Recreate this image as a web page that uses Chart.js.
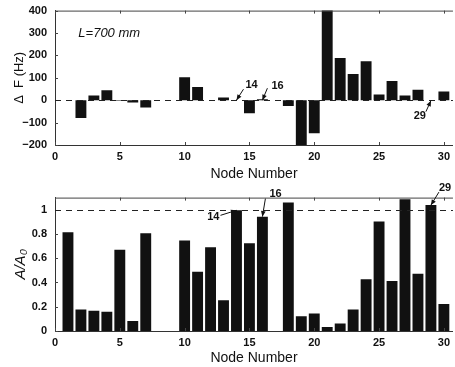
<!DOCTYPE html>
<html>
<head>
<meta charset="utf-8">
<script src="https://cdn.jsdelivr.net/npm/chart.js@4.4.0/dist/chart.umd.min.js"></script>
<style>
  body { margin: 0; background: #fff; }
  #wrap { position: relative; width: 455px; height: 367px; overflow: hidden; }
  #top_box { position: absolute; left: 0; top: -4px; width: 455px; height: 187px; }
  #bottom_box { position: absolute; left: 0; top: 183px; width: 455px; height: 184px; }
</style>
</head>
<body>
<div id="wrap">
  <div id="top_box"><canvas id="freq_canvas" width="455" height="187"></canvas></div>
  <div id="bottom_box"><canvas id="amp_canvas" width="455" height="184"></canvas></div>
</div>
<script>
// node numbers 1..30
let nodes = [1, 2, 3, 4, 5, 6, 7, 8, 9, 10, 11, 12, 13, 14, 15, 16, 17, 18, 19, 20, 21, 22, 23, 24, 25, 26, 27, 28, 29, 30];
// frequency shift, Hz
let delta_f = [0, -80, 21, 44, -3, -10, -33, 0, 0, 102, 59, 0, 12, 0, -58, 4, 0, -26, -210, -147, 410, 188, 117, 174, 26, 86, 21, 47, 0, 39];
// amplitude ratio A/A0
let amp_ratio = [0.815, 0.177, 0.168, 0.158, 0.671, 0.082, 0.807, 0, 0, 0.747, 0.489, 0.69, 0.253, 0.995, 0.723, 0.943, 0, 1.06, 0.122, 0.144, 0.033, 0.062, 0.177, 0.427, 0.902, 0.413, 1.087, 0.473, 1.038, 0.223];
let x_ticks = [0, 5, 10, 15, 20, 25, 30];
let freq_ticks = [-200, -100, 0, 100, 200, 300, 400];
let amp_ticks = [0, 0.2, 0.4, 0.6, 0.8, 1];

let tick_font = { family: 'Liberation Sans, Arial, sans-serif', size: 11, weight: 'bold' };
let title_font = { family: 'Liberation Sans, Arial, sans-serif', size: 14 };
let ink = '#111';

// dashed reference line + top frame + inward ticks + arrows/labels
let marks_plugin = {
    id: 'marks',
    afterDatasetsDraw(chart, args, opts) {
        let ctx = chart.ctx;
        let area = chart.chartArea;
        let xs = chart.scales.x;
        let ys = chart.scales.y;
        ctx.save();
        ctx.strokeStyle = '#444';
        ctx.lineWidth = 1;
        ctx.beginPath();
        ctx.moveTo(area.left, area.top + 0.5);
        ctx.lineTo(area.right, area.top + 0.5);
        ctx.stroke();
        x_ticks.forEach(t => {
            let px = Math.round(xs.getPixelForValue(t)) + 0.5;
            ctx.beginPath();
            ctx.moveTo(px, area.bottom); ctx.lineTo(px, area.bottom - 3);
            ctx.moveTo(px, area.top); ctx.lineTo(px, area.top + 3);
            ctx.stroke();
        });
        ys.ticks.forEach(t => {
            let py = Math.round(ys.getPixelForValue(t.value)) + 0.5;
            ctx.beginPath();
            ctx.moveTo(area.left, py); ctx.lineTo(area.left + 3, py);
            ctx.stroke();
        });
        // dashed reference line
        let ry = Math.round(ys.getPixelForValue(opts.refLine)) + 0.5;
        ctx.setLineDash([6, 5]);
        ctx.strokeStyle = '#222';
        ctx.beginPath();
        ctx.moveTo(area.left, ry);
        ctx.lineTo(area.right, ry);
        ctx.stroke();
        ctx.setLineDash([]);
        // arrows
        ctx.fillStyle = ink;
        ctx.strokeStyle = ink;
        ctx.font = 'bold 11px Liberation Sans, Arial, sans-serif';
        ctx.textBaseline = 'middle';
        (opts.arrows || []).forEach(a => {
            let tx = xs.getPixelForValue(a.node);
            let ty = ys.getPixelForValue(a.value);
            let sx = tx + a.dx, sy = ty + a.dy;
            ctx.beginPath();
            ctx.moveTo(sx, sy);
            ctx.lineTo(tx, ty);
            ctx.stroke();
            let ang = Math.atan2(ty - sy, tx - sx);
            ctx.beginPath();
            ctx.moveTo(tx, ty);
            ctx.lineTo(tx - 6 * Math.cos(ang - 0.4), ty - 6 * Math.sin(ang - 0.4));
            ctx.lineTo(tx - 6 * Math.cos(ang + 0.4), ty - 6 * Math.sin(ang + 0.4));
            ctx.closePath();
            ctx.fill();
            ctx.textAlign = a.align;
            ctx.fillText(a.text, tx + a.lx, ty + a.ly);
        });
        (opts.notes || []).forEach(n => {
            ctx.font = n.font;
            ctx.textAlign = 'left';
            ctx.fillText(n.text, xs.getPixelForValue(n.x), ys.getPixelForValue(n.y));
        });
        ctx.restore();
    }
};

function make_x(height) {
    return {
        type: 'linear',
        min: 0,
        max: 30.7,
        offset: false,
        afterFit: s => { s.height = height; },
        ticks: { font: tick_font, color: ink, padding: 5, stepSize: 5, includeBounds: false, autoSkip: false, maxRotation: 0 },
        grid: { display: false, drawTicks: false, offset: false },
        border: { display: true, color: '#333' },
        title: { display: true, text: 'Node Number', font: title_font, color: ink, padding: { top: 2, bottom: 0 } }
    };
}

let freq_chart = new Chart(document.getElementById('freq_canvas'), {
    type: 'bar',
    data: {
        datasets: [{
            data: nodes.map((n, i) => ({ x: n, y: delta_f[i] })),
            backgroundColor: ink,
            barPercentage: 0.84,
            categoryPercentage: 1
        }]
    },
    options: {
        responsive: false,
        animation: false,
        layout: { padding: { top: 7, right: 0, left: 0, bottom: 0 } },
        plugins: {
            legend: { display: false },
            tooltip: { enabled: false },
            marks: {
                refLine: 0,
                arrows: [
                    { node: 14, value: 0, dx: 7, dy: -11, text: '14', align: 'left', lx: 9, ly: -15 },
                    { node: 16, value: 0, dx: 5, dy: -12, text: '16', align: 'left', lx: 9, ly: -14 },
                    { node: 29, value: -2, dx: -5, dy: 11, text: '29', align: 'right', lx: -5, ly: 15 }
                ],
                notes: [{ text: 'L=700 mm', x: 1.8, y: 300, font: 'italic 13px Liberation Sans, Arial, sans-serif' }]
            }
        },
        scales: {
            x: make_x(38),
            y: {
                min: -200,
                max: 400,
                afterFit: s => { s.width = 55; },
                afterBuildTicks: s => { s.ticks = freq_ticks.map(v => ({ value: v })); },
                ticks: { font: tick_font, color: ink, padding: 8, callback: v => String(v).replace('-', '\u2212') },
                grid: { display: false, drawTicks: false },
                border: { display: true, color: '#333' },
                title: { display: true, text: '\u0394  F (Hz)', font: { family: 'Liberation Sans, Arial, sans-serif', size: 13 }, color: ink, padding: { top: 12, bottom: 0 } }
            }
        }
    },
    plugins: [marks_plugin]
});

let amp_chart = new Chart(document.getElementById('amp_canvas'), {
    type: 'bar',
    data: {
        datasets: [{
            data: nodes.map((n, i) => ({ x: n, y: amp_ratio[i] })),
            backgroundColor: ink,
            barPercentage: 0.84,
            categoryPercentage: 1
        }]
    },
    options: {
        responsive: false,
        animation: false,
        layout: { padding: { top: 12, right: 0, left: 0, bottom: 0 } },
        plugins: {
            legend: { display: false },
            tooltip: { enabled: false },
            marks: {
                refLine: 1,
                arrows: [
                    { node: 14, value: 0.995, dx: -16, dy: 5, text: '14', align: 'right', lx: -17, ly: 7 },
                    { node: 16, value: 0.943, dx: 3, dy: -18, text: '16', align: 'left', lx: 7, ly: -23 },
                    { node: 29, value: 1.038, dx: 8, dy: -13, text: '29', align: 'left', lx: 8, ly: -17 }
                ]
            }
        },
        scales: {
            x: make_x(36),
            y: {
                min: 0,
                max: 1.1,
                afterFit: s => { s.width = 55; },
                afterBuildTicks: s => { s.ticks = amp_ticks.map(v => ({ value: v })); },
                ticks: { font: tick_font, color: ink, padding: 8, callback: v => String(+v.toFixed(1)) },
                grid: { display: false, drawTicks: false },
                border: { display: true, color: '#333' },
                title: { display: true, text: 'A/A\u2080', font: { family: 'Liberation Sans, Arial, sans-serif', size: 15, style: 'italic' }, color: ink, padding: { top: 12, bottom: 0 } }
            }
        }
    },
    plugins: [marks_plugin]
});
</script>
</body>
</html>
